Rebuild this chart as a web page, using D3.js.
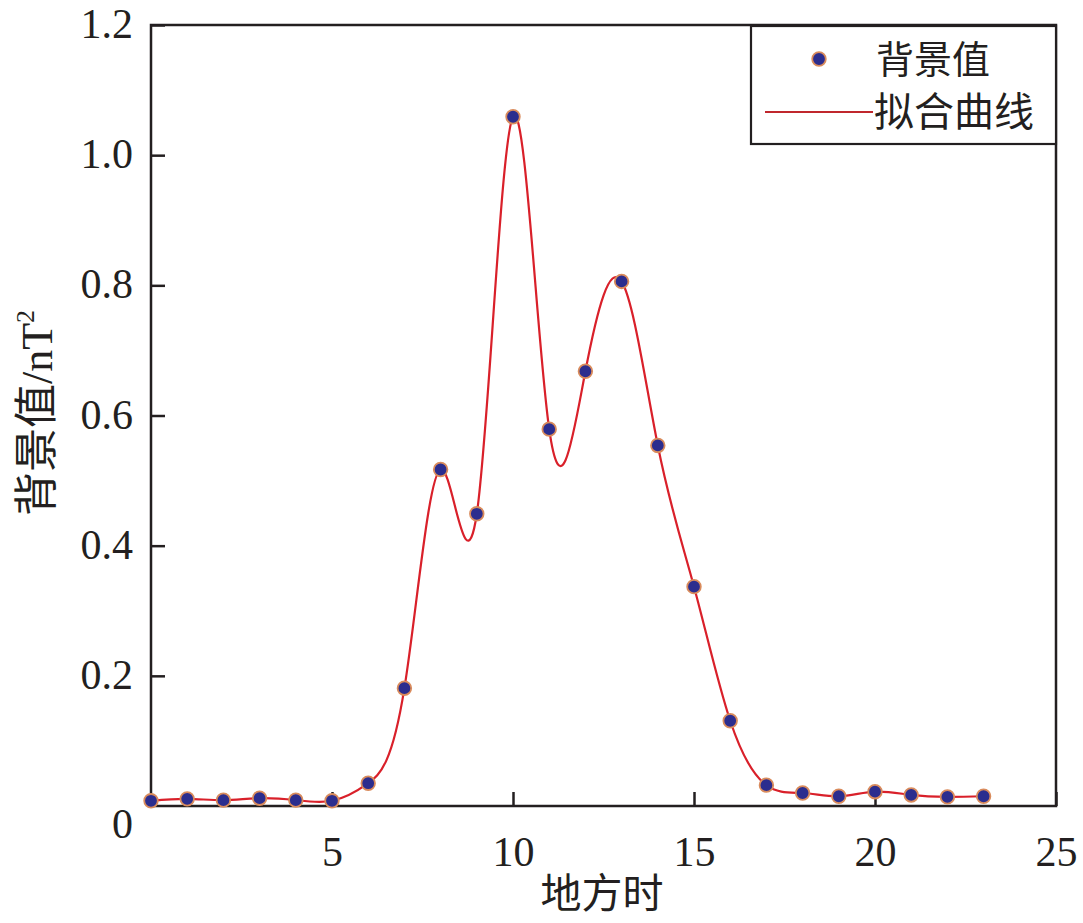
<!DOCTYPE html>
<html><head><meta charset="utf-8">
<script src="https://cdn.jsdelivr.net/npm/d3@7"></script>
<style>body{margin:0;background:#fff}</style>
</head><body>
<script>
const hours = [0,1,2,3,4,5,6,7,8,9,10,11,12,13,14,15,16,17,18,19,20,21,22,23];
const values = [0.008,0.011,0.009,0.012,0.009,0.008,0.035,0.181,0.517,0.449,1.059,0.579,0.668,0.806,0.554,0.337,0.131,0.032,0.020,0.015,0.022,0.017,0.014,0.015];
const xTicks = [5,10,15,20,25];
const yTicks = [0.2,0.4,0.6,0.8,1.0,1.2];
const legendLabels = ["背景值","拟合曲线"];
const xTitle = "地方时";

const W=1083,H=923;
const m={l:151,t:25,r:1056,b:806};
const svg=d3.select("body").append("svg").attr("width",W).attr("height",H);
const x=d3.scaleLinear().domain([0,25]).range([m.l,m.r]);
const y=d3.scaleLinear().domain([0,1.2]).range([m.b,m.t]);
const numFont='"Liberation Serif","Times New Roman",serif';
const cjkFont='"Noto Sans CJK SC",sans-serif';

// frame
svg.append("rect").attr("x",m.l).attr("y",m.t).attr("width",m.r-m.l).attr("height",m.b-m.t)
  .attr("fill","none").attr("stroke","#231f20").attr("stroke-width",2.5);

const xa=svg.append("g").attr("transform",`translate(0,${m.b})`)
  .call(d3.axisBottom(x).tickValues(xTicks).tickSizeInner(-14).tickSizeOuter(0).tickPadding(30).tickFormat(d3.format("d")));
const ya=svg.append("g").attr("transform",`translate(${m.l},0)`)
  .call(d3.axisLeft(y).tickValues(yTicks).tickSizeInner(-14).tickSizeOuter(0).tickPadding(18).tickFormat(d3.format(".1f")));
[xa,ya].forEach(g=>{
  g.select(".domain").remove();
  g.selectAll(".tick line").attr("stroke","#231f20").attr("stroke-width",2.5);
  g.selectAll(".tick text").attr("font-family",numFont).attr("font-size",42).attr("fill","#231f20");
});
ya.selectAll(".tick text").attr("dy","0.3em");
svg.append("text").attr("x",m.l-18).attr("y",y(0)+32).attr("text-anchor","end")
  .attr("font-family",numFont).attr("font-size",42).attr("fill","#231f20").text("0");

// curve
const pts=hours.map((h,i)=>[h,values[i]]);
svg.append("path").datum(pts)
  .attr("d",d3.line().x(d=>x(d[0])).y(d=>y(d[1])).curve(d3.curveNatural))
  .attr("fill","none").attr("stroke","#d9202a").attr("stroke-width",2.2);

svg.append("g").selectAll("circle").data(pts).join("circle")
  .attr("cx",d=>x(d[0])).attr("cy",d=>y(d[1])).attr("r",6.8)
  .attr("fill","#2b2d8e").attr("stroke","#d98b5c").attr("stroke-width",1.8);

// legend
const lg=svg.append("g");
lg.append("rect").attr("x",751).attr("y",26).attr("width",305).attr("height",118)
  .attr("fill","#fff").attr("stroke","#231f20").attr("stroke-width",2.2);
lg.append("circle").attr("cx",819).attr("cy",59).attr("r",6.8)
  .attr("fill","#2b2d8e").attr("stroke","#d98b5c").attr("stroke-width",1.8);
lg.append("line").attr("x1",765).attr("x2",873).attr("y1",112).attr("y2",112)
  .attr("stroke","#c0272d").attr("stroke-width",2.2);
lg.append("text").attr("x",876).attr("y",59).attr("dy","0.36em").attr("font-family",cjkFont).attr("font-size",38).attr("fill","#231f20").text(legendLabels[0]);
lg.append("text").attr("x",874).attr("y",112).attr("dy","0.36em").attr("font-family",cjkFont).attr("font-size",40).attr("fill","#231f20").text(legendLabels[1]);

// axis titles
svg.append("text").attr("x",602).attr("y",908).attr("text-anchor","middle")
  .attr("font-family",cjkFont).attr("font-size",41).attr("fill","#231f20").text(xTitle);
const yt=svg.append("text").attr("transform","translate(52,413) rotate(-90)").attr("text-anchor","middle")
  .attr("font-size",44).attr("fill","#231f20");
yt.append("tspan").attr("font-family",cjkFont).text("背景值");
yt.append("tspan").attr("font-family",numFont).text("/nT");
yt.append("tspan").attr("font-family",numFont).attr("font-size",26).attr("dy",-18).text("2");
</script>
</body></html>
